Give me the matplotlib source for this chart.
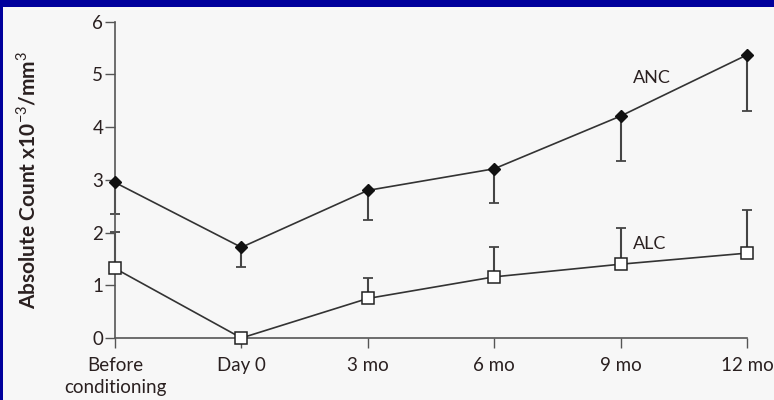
import matplotlib
matplotlib.use("Agg")
import matplotlib.pyplot as plt
from matplotlib.patches import Rectangle

# Time points and measured counts (x10^-3/mm^3)
timepoints = ["Before\nconditioning", "Day 0", "3 mo", "6 mo", "9 mo", "12 mo"]
anc_mean = [2.95, 1.72, 2.80, 3.21, 4.21, 5.37]
anc_low = [2.36, 1.35, 2.24, 2.57, 3.35, 4.31]
alc_mean = [1.32, 0.00, 0.75, 1.16, 1.40, 1.61]
alc_high = [2.02, 0.00, 1.13, 1.73, 2.08, 2.42]
yticks = [0, 1, 2, 3, 4, 5, 6]

plt.rcParams["font.family"] = ["Lato", "DejaVu Sans"]
plt.rcParams["mathtext.fontset"] = "custom"
plt.rcParams["mathtext.rm"] = "Lato"
plt.rcParams["mathtext.bf"] = "Lato:bold"

fig = plt.figure(figsize=(7.74, 4.0), dpi=100)
fig.patch.set_facecolor("#00009c")
fig.patches.append(Rectangle((3 / 774, 0), 1, 1 - 7 / 400, transform=fig.transFigure,
                             facecolor="#f7f7f7", edgecolor="none", zorder=-10))

ax = fig.add_axes([115 / 774, 62 / 400, 632 / 774, 316.3 / 400])
ax.set_facecolor("none")
ax.set_zorder(5)

x = list(range(len(timepoints)))
line_col = "#333333"
err_col = "#444444"
text_col = "#2a2020"

anc_err = [[m - l for m, l in zip(anc_mean, anc_low)], [0] * len(anc_mean)]
alc_err = [[0] * len(alc_mean), [h - m for m, h in zip(alc_mean, alc_high)]]

eb1 = ax.errorbar(x, anc_mean, yerr=anc_err, fmt="none", ecolor=err_col,
                  elinewidth=1.5, capsize=3.5, capthick=1.3, zorder=2)
eb2 = ax.errorbar(x, alc_mean, yerr=alc_err, fmt="none", ecolor=err_col,
                  elinewidth=1.5, capsize=3.5, capthick=1.3, zorder=2)
for eb in (eb1, eb2):
    for art in eb.lines[1] + eb.lines[2]:
        art.set_clip_on(False)

ax.plot(x, anc_mean, color=line_col, lw=1.2, marker="D", ms=6.5,
        mfc="#111111", mec="#111111", clip_on=False, zorder=3)
ax.plot(x, alc_mean, color=line_col, lw=1.2, marker="s", ms=8.5,
        mfc="white", mec="#222222", mew=1.1, clip_on=False, zorder=3)

ax.text(4.10, 4.93, "ANC", fontsize=13, color=text_col, va="center", ha="left")
ax.text(4.10, 1.78, "ALC", fontsize=13, color=text_col, va="center", ha="left")

ax.set_xlim(0, 5)
ax.set_ylim(0, 6)
ax.set_xticks(x)
ax.set_xticklabels(timepoints, fontsize=13.5, color=text_col, linespacing=1.35)
ax.set_yticks(yticks)
ax.set_yticklabels([str(v) for v in yticks], fontsize=13.5, color=text_col)
ax.tick_params(axis="both", direction="out", length=7, width=1.0, color="#555555")
ax.tick_params(axis="x", pad=6.5)
ax.tick_params(axis="y", pad=1.5)

for side in ("top", "right"):
    ax.spines[side].set_visible(False)
for side in ("left", "bottom"):
    ax.spines[side].set_color("#555555")
    ax.spines[side].set_linewidth(1.2)

ax.set_ylabel("Absolute Count x10$^{\u22123}$/mm$^3$", fontsize=15,
              fontweight="bold", color=text_col, labelpad=38)

fig.savefig("out.png", dpi=100, facecolor=fig.get_facecolor())
